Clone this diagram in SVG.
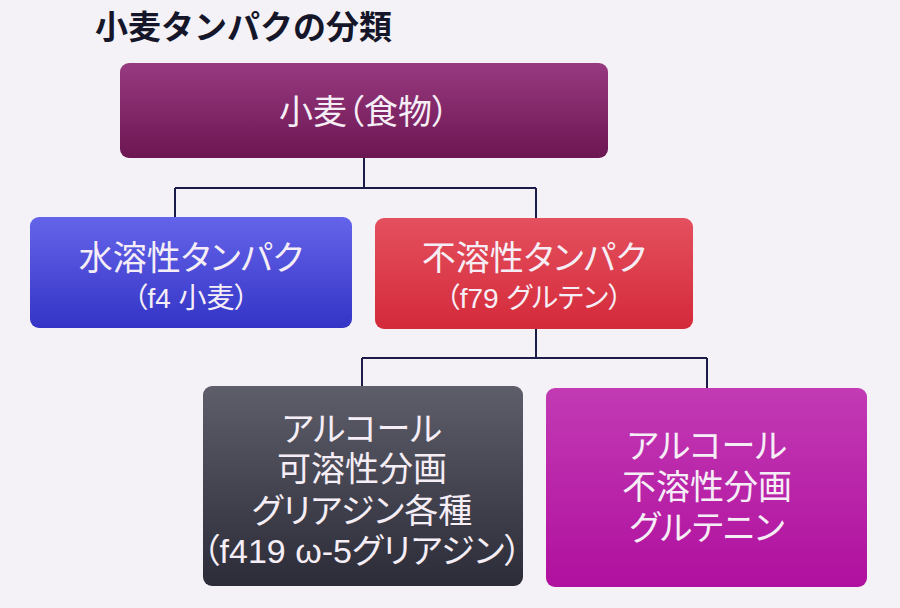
<svg xmlns="http://www.w3.org/2000/svg" width="900" height="608" viewBox="0 0 900 608">
<defs>
<linearGradient id="gTop" x1="0" y1="0" x2="0" y2="1"><stop offset="0" stop-color="#983a80"/><stop offset="1" stop-color="#6c1652"/></linearGradient>
<linearGradient id="gBlue" x1="0" y1="0" x2="0" y2="1"><stop offset="0" stop-color="#6464ea"/><stop offset="1" stop-color="#3434c6"/></linearGradient>
<linearGradient id="gRed" x1="0" y1="0" x2="0" y2="1"><stop offset="0" stop-color="#e4505e"/><stop offset="1" stop-color="#d42a3a"/></linearGradient>
<linearGradient id="gGray" x1="0" y1="0" x2="0" y2="1"><stop offset="0" stop-color="#5e5e6a"/><stop offset="1" stop-color="#2c2c38"/></linearGradient>
<linearGradient id="gMag" x1="0" y1="0" x2="0" y2="1"><stop offset="0" stop-color="#c23ab4"/><stop offset="1" stop-color="#b0109e"/></linearGradient>
</defs>
<style>
.t{font-family:"Liberation Sans","Noto Sans CJK JP",sans-serif;fill:#f6eef6;text-anchor:middle;font-feature-settings:"palt";}
.big{font-size:34px;}
.sub{font-size:28px;}
.title{font-family:"Noto Sans CJK JP",sans-serif;font-size:33px;font-weight:bold;fill:#16162a;}
.c{stroke:#1c1c4a;stroke-width:2;fill:none;}
</style>
<rect width="900" height="608" fill="#f4f2f6"/>
<text class="title" x="95" y="39">小麦タンパクの分類</text>
<g id="connectors">
<path class="c" d="M364 158 V188 M175 188 H536 M175 188 V218 M536 188 V219"/>
<path class="c" d="M536 328 V358 M362 358 H707 M362 358 V387 M707 358 V389"/>
</g>
<g id="wheat">
<rect x="120" y="63" width="488" height="95" rx="9" fill="url(#gTop)"/>
<text class="t big" x="364" y="124">小麦（食物）</text>
</g>
<g id="water-soluble">
<rect x="30" y="217" width="322" height="111" rx="9" fill="url(#gBlue)"/>
<text class="t big" x="191" y="270">水溶性タンパク</text>
<text class="t sub" x="191" y="308">（f4 小麦）</text>
</g>
<g id="insoluble">
<rect x="375" y="218" width="318" height="111" rx="9" fill="url(#gRed)"/>
<text class="t big" x="534" y="270">不溶性タンパク</text>
<text class="t sub" x="534" y="308">（f79 グルテン）</text>
</g>
<g id="gliadin">
<rect x="203" y="386" width="320" height="200" rx="9" fill="url(#gGray)"/>
<text class="t big" x="362" y="441">アルコール</text>
<text class="t big" x="362" y="481">可溶性分画</text>
<text class="t big" x="362" y="523">グリアジン各種</text>
<text class="t big" x="362" y="563">（f419 ω-5グリアジン）</text>
</g>
<g id="glutenin">
<rect x="546" y="388" width="321" height="199" rx="9" fill="url(#gMag)"/>
<text class="t big" x="707" y="458">アルコール</text>
<text class="t big" x="707" y="499">不溶性分画</text>
<text class="t big" x="707" y="540">グルテニン</text>
</g>
</svg>
